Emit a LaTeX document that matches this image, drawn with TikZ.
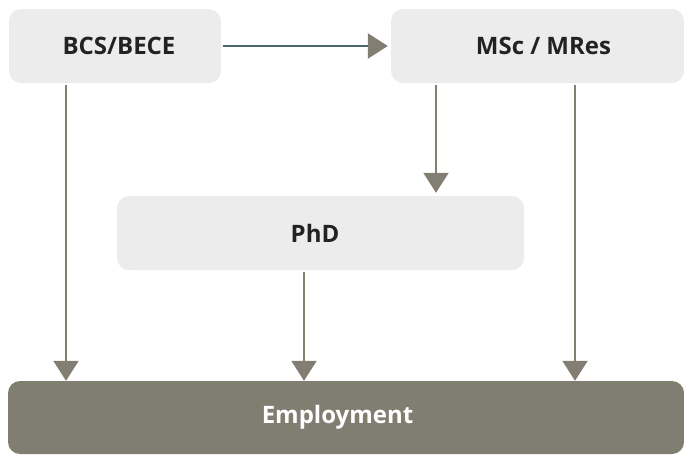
\documentclass[tikz,border=0pt]{standalone}
\usepackage{fontspec}
\setmainfont{Open Sans}
\usetikzlibrary{arrows.meta,positioning}
\definecolor{boxgray}{HTML}{ECECEC}
\definecolor{empgray}{HTML}{807D71}
\definecolor{arrgray}{HTML}{827E72}
\definecolor{tealline}{HTML}{4B6670}
\definecolor{txtdark}{HTML}{222222}
\tikzset{
  stage/.style={fill=boxgray, rounded corners=12pt, inner sep=0pt, font=\fontsize{24}{27}\selectfont\bfseries, text=txtdark, minimum height=74pt},
  empbox/.style={fill=empgray, rounded corners=12pt, inner sep=0pt, font=\fontsize{24}{27}\selectfont\bfseries, text=white, minimum height=73pt},
  arr/.style={draw=arrgray, line width=2pt, -{Triangle[width=25pt,length=20pt]}, arrgray},
  harr/.style={draw=tealline, line width=2.5pt, -{Triangle[width=25pt,length=20pt,color=arrgray]}},
}
\begin{document}
\begin{tikzpicture}[x=1pt,y=-1pt]
\useasboundingbox (0,0) rectangle (684,455);
\node[stage, minimum width=212pt] (bcs) at (115,46) {\rule{8pt}{0pt}BCS/BECE};
\node[stage, minimum width=293pt] (msc) at (537.5,46) {\rule{12pt}{0pt}MSc / MRes};
\node[stage, minimum width=407pt] (phd) at (320.5,233) {PhD\rule{11pt}{0pt}};
\node[empbox, minimum width=676pt] (emp) at (346,417.5) {Employment\rule{17pt}{0pt}};
\coordinate (xa) at (66,0);
\coordinate (xb) at (304,0);
\coordinate (xc) at (436,0);
\coordinate (xd) at (575,0);
\draw[harr, shorten <=2pt, shorten >=3pt] (bcs.east) -- (msc.west);
\draw[arr, shorten <=2pt] (bcs.south -| xa) -- (emp.north -| xa);
\draw[arr, shorten <=2pt, shorten >=3pt] (msc.south -| xc) -- (phd.north -| xc);
\draw[arr, shorten <=2pt] (msc.south -| xd) -- (emp.north -| xd);
\draw[arr, shorten <=2pt] (phd.south -| xb) -- (emp.north -| xb);
\end{tikzpicture}
\end{document}
